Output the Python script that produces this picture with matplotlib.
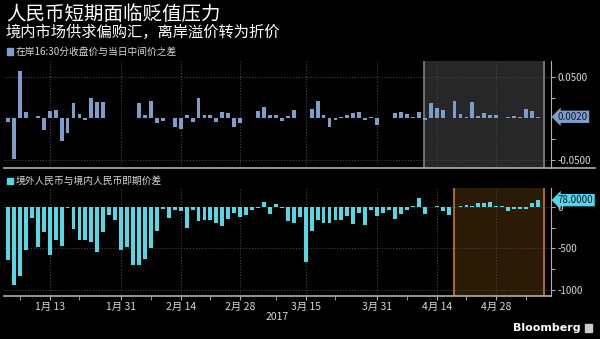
import matplotlib.pyplot as plt
import matplotlib.lines as mlines
import matplotlib.patches as mpatches
import numpy as np
import pandas as pd

plt.rcParams['font.family'] = ['Noto Sans CJK SC', 'DejaVu Sans']
plt.rcParams['axes.unicode_minus'] = False

# trading days shown on the chart
dates = pd.bdate_range('2017-01-04', '2017-05-09')

# onshore 16:30 close minus fixing (nan = onshore holiday)
onshore = [-0.0044, -0.049, 0.057, 0.008, 0.001, 0.003, -0.014, 0.009, 0.0104, -0.027,
           -0.018, 0.019, 0.0056, -0.002, 0.024, 0.020, 0.020, np.nan, np.nan, np.nan,
           np.nan, np.nan, 0.019, 0.0036, 0.021, -0.006, -0.0036, 0.0004, -0.010, -0.013,
           0.0044, -0.0044, 0.025, 0.0036, 0.0036, -0.0044, 0.008, 0.007, -0.010, -0.006,
           0.0006, 0.0008, 0.009, 0.014, 0.0036, 0.0036, -0.0036, 0.003, 0.0104, 0.001,
           0.001, 0.0116, 0.021, 0.0044, -0.010, -0.002, 0.002, 0.0036, 0.007, 0.008,
           -0.002, 0.0016, -0.0076, np.nan, np.nan, 0.006, 0.008, 0.0048, 0.0012, 0.008,
           -0.002, 0.018, 0.0128, 0.0096, 0.0008, 0.021, 0.0048, 0.002, 0.0196, 0.0032,
           0.006, 0.0036, 0.0044, np.nan, 0.0012, 0.0024, 0.0012, 0.0116, 0.0088, 0.002]

# offshore minus onshore spot (pips)
spread = [-640, -940, -830, -525, -130, -485, -300, -585, -405, -475,
          -20, -270, -405, -405, -420, -540, -300, -105, -160, -525,
          -485, -700, -700, -630, -500, -290, -30, -130, -35, -50,
          -255, -35, -170, -160, -160, -200, -230, -145, -75, -125,
          -100, -40, -12, 55, -90, 35, -15, -170, -200, -125,
          -660, -295, -160, -195, -195, -160, -155, -115, -210, -75,
          -225, -45, -115, -75, -45, -145, -85, -35, 5, 110,
          -85, -5, 5, -48, -96, -5, 3, 15, 3, 40,
          48, 56, 10, 5, -56, -24, -24, -24, 40, 78]

tick_dates = ['2017-01-13', '2017-01-31', '2017-02-14', '2017-02-28',
              '2017-03-15', '2017-03-31', '2017-04-14', '2017-04-28']
minor_dates = ['2017-01-06', '2017-01-20', '2017-02-07', '2017-02-21',
               '2017-03-08', '2017-03-22', '2017-04-07', '2017-04-21', '2017-05-05']
top_shade_start = '2017-04-12'
bottom_shade_start = '2017-04-19'

title = '人民币短期面临贬值压力'
subtitle = '境内市场供求偏购汇，离岸溢价转为折价'
label_top = '在岸16:30分收盘价与当日中间价之差'
label_bottom = '境外人民币与境内人民币即期价差'

BG = 'black'
TOP_C = '#7d9dcb'
BOT_C = '#55d8e6'
GRID_C = '#444444'
AX_C = '#b0b0b0'
TXT_C = '#d8d8d8'


def pos(d):
    return dates.get_loc(pd.Timestamp(d))


def style_axis(ax, ylim, yticks, ylabels, yminor):
    ax.set_facecolor(BG)
    ax.set_xlim(-0.67, 91.2)
    ax.set_ylim(*ylim)
    for s in ['left', 'top']:
        ax.spines[s].set_visible(False)
    ax.spines['right'].set_color(AX_C)
    ax.spines['bottom'].set_color(AX_C)
    ax.spines['bottom'].set_linewidth(1.2)
    ax.yaxis.tick_right()
    ax.set_yticks(yticks)
    ax.set_yticklabels(ylabels)
    ax.set_yticks(yminor, minor=True)
    ax.tick_params(axis='y', which='both', colors=AX_C, labelcolor=TXT_C, length=3,
                   width=0.8, labelsize=7, pad=2)
    ax.set_xticks([pos(d) for d in tick_dates])
    ax.set_xticks([pos(d) for d in minor_dates], minor=True)
    ax.grid(True, which='major', color=GRID_C, linestyle=':', linewidth=0.8)
    ax.set_axisbelow(True)


def value_tag(ax, val, color):
    ax.annotate('%.4f' % val, xy=(1, val), xycoords=('axes fraction', 'data'),
                xytext=(5, 0), textcoords='offset points', ha='left', va='center',
                fontsize=7, color='#0d1a30', annotation_clip=False, zorder=10,
                bbox=dict(boxstyle='larrow,pad=0.12', fc=color, ec='none'))


fig = plt.figure(figsize=(6, 3.39), dpi=100, facecolor=BG)
x = np.arange(len(dates))

# top panel
ax1 = fig.add_axes([4 / 600, 1 - 168 / 339, 547 / 600, 107 / 339])
style_axis(ax1, (-0.0594, 0.0689), [0.05, -0.05], ['0.0500', '-0.0500'], [0.025, -0.025])
ax1.spines['bottom'].set_visible(False)
ax1.tick_params(axis='x', which='both', length=0, labelbottom=False)
s1 = pos(top_shade_start) - 0.1
ax1.axvspan(s1, len(dates), color='#272727', zorder=0)
for xv in [s1, len(dates)]:
    ax1.axvline(xv, color='#8a8a8a', lw=1.1, zorder=1)
ax1.bar(x, onshore, width=0.65, color=TOP_C, zorder=3)
value_tag(ax1, onshore[-1], TOP_C)

# bottom panel
ax2 = fig.add_axes([4 / 600, 1 - 296 / 339, 547 / 600, 108 / 339])
style_axis(ax2, (-1071, 224), [0, -500, -1000], ['0', '-500', '-1000'], [-250, -750])
ax2.set_xticklabels(['%d月 %d' % (pd.Timestamp(d).month, pd.Timestamp(d).day) for d in tick_dates])
ax2.tick_params(axis='x', which='both', colors=AX_C, labelcolor=TXT_C, length=3,
                labelsize=7.5, pad=1)
ax2.set_xlabel('2017', color=TXT_C, fontsize=7.5, labelpad=0)
s2 = pos(bottom_shade_start) - 0.05
ax2.axvspan(s2, len(dates), color='#2b1b06', zorder=0)
for xv in [s2, len(dates)]:
    ax2.axvline(xv, color='#c7781f', lw=1.2, zorder=1)
ax2.bar(x, spread, width=0.65, color=BOT_C, zorder=3)
value_tag(ax2, spread[-1], BOT_C)

# separator under the top panel
fig.add_artist(mlines.Line2D([4 / 600, 595 / 600], [1 - 168 / 339] * 2, color=AX_C, lw=1.2))

# titles and legends
fig.text(6 / 600, 1 - 15 / 339, title, color='white', fontsize=14, va='center')
fig.text(6 / 600, 1 - 32 / 339, subtitle, color='white', fontsize=11, va='center')
for yc, color, label in [(51.5, TOP_C, label_top), (181, BOT_C, label_bottom)]:
    fig.add_artist(mpatches.Rectangle((7 / 600, 1 - (yc + 3) / 339), 6 / 600, 6 / 339,
                                      transform=fig.transFigure, color=color))
    fig.text(16 / 600, 1 - yc / 339, label, color=TXT_C, fontsize=7, va='center')
fig.text(581 / 600, 1 - 328 / 339, 'Bloomberg', color='white', fontsize=8, fontweight='bold',
         ha='right', va='center', family='DejaVu Sans')
fig.add_artist(mpatches.Rectangle((585 / 600, 1 - 332 / 339), 7 / 600, 8 / 339,
                                  transform=fig.transFigure, color='#cccccc'))

fig.savefig('out.png', dpi=100, facecolor=BG)
